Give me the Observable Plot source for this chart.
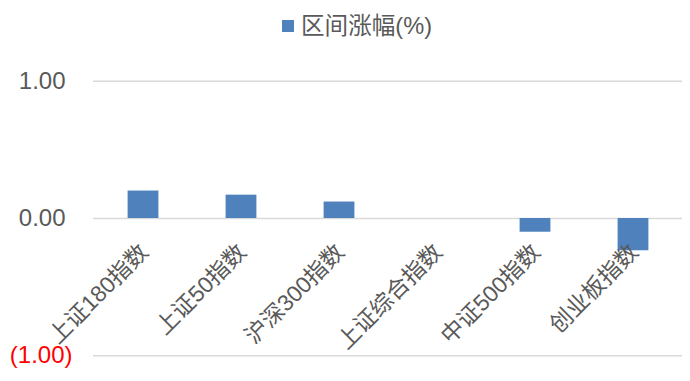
<!DOCTYPE html>
<html><head><meta charset="utf-8">
<script src="https://cdn.jsdelivr.net/npm/d3@7"></script>
<script src="https://cdn.jsdelivr.net/npm/@observablehq/plot@0.6"></script>
<style>
body{margin:0;background:#fff;font-family:"Liberation Sans","Noto Sans CJK SC",sans-serif;}
#legend{position:relative;height:50px;width:690px;}
#legend .sw{position:absolute;left:282px;top:20px;width:11.5px;height:11.5px;background:#4F81BD;}
#legend .lb{position:absolute;left:301px;top:12px;font-size:23.6px;line-height:28px;color:#595959;white-space:nowrap;}
</style></head><body>
<div id="legend"><span class="sw"></span><span class="lb" id="lbtext"></span></div>
<div id="chart"></div>
<script>
const seriesName = "区间涨幅(%)";
const categories = ["上证180指数", "上证50指数", "沪深300指数", "上证综合指数", "中证500指数", "创业板指数"];
const values = [0.20, 0.17, 0.12, 0.00, -0.10, -0.235];
const yTicks = [-1, 0, 1];

document.getElementById("lbtext").textContent = seriesName;

const data = categories.map((name, i) => ({name, value: values[i]}));
const fmt = d3.format(".2f");

const chart = Plot.plot({
  width: 690,
  height: 331,
  marginTop: 30.7,
  marginBottom: 25.7,
  marginLeft: 93,
  marginRight: 8,
  style: {fontFamily: '"Liberation Sans","Noto Sans CJK SC",sans-serif', fontSize: "22px", color: "#595959", background: "white"},
  x: {domain: categories, padding: 0, axis: null},
  y: {domain: [-1, 1], label: null},
  marks: [
    Plot.ruleY(yTicks, {stroke: "#d9d9d9", strokeWidth: 1.5}),
    Plot.barY(data, {x: "name", y: "value", fill: "#4F81BD", insetLeft: 33.6, insetRight: 33.6}),
    Plot.axisY(yTicks.filter(d => d >= 0), {tickSize: 0, tickPadding: 28, tickFormat: fmt, fontSize: 24, fill: "#595959", label: null}),
    Plot.axisY(yTicks.filter(d => d < 0), {tickSize: 0, tickPadding: 21, tickFormat: d => `(${fmt(-d)})`, fontSize: 24, fill: "red", label: null}),
    Plot.text(data, {x: "name", y: () => 0, text: "name", rotate: -45, textAnchor: "end", dx: 1, dy: 30, fontSize: 22.8, fill: "#595959"})
  ]
});
document.getElementById("chart").appendChild(chart);
</script>
</body></html>
